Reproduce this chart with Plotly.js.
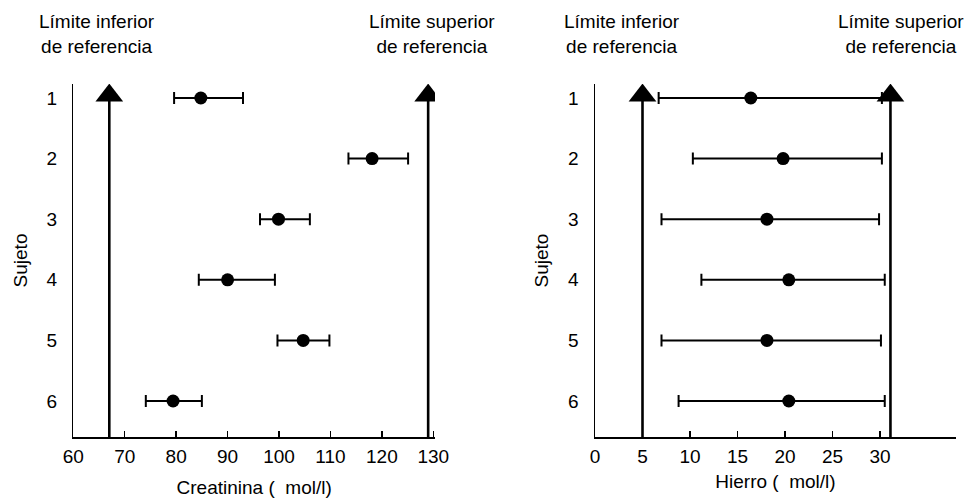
<!DOCTYPE html>
<html>
<head>
<meta charset="utf-8">
<script src="https://cdn.plot.ly/plotly-3.0.1.min.js"></script>
<style>html,body{margin:0;padding:0;background:#fff;}#chart{width:971px;height:499px;}</style>
</head>
<body>
<div id="chart"></div>
<script>
// ---- data ----
var subjects = [1, 2, 3, 4, 5, 6];
var subjectLabels = ['1', '2', '3', '4', '5', '6'];

var creatMean = [84.8, 118.1, 99.9, 90.0, 104.7, 79.4];
var creatLow  = [79.6, 113.5, 96.3, 84.4, 99.7, 74.1];
var creatHigh = [93.0, 125.1, 106.0, 99.2, 109.8, 85.0];
var creatRef  = [67, 129];
var creatTicks = [60, 70, 80, 90, 100, 110, 120, 130];

var ironMean = [16.4, 19.8, 18.1, 20.4, 18.1, 20.4];
var ironLow  = [6.7, 10.3, 7.0, 11.2, 7.0, 8.8];
var ironHigh = [30.2, 30.2, 29.9, 30.5, 30.1, 30.5];
var ironRef  = [5, 31.1];
var ironTicks = [0, 5, 10, 15, 20, 25, 30];

var refLabels = ['Límite inferior<br>de referencia', 'Límite superior<br>de referencia'];

// ---- helpers ----
var W = 971, H = 499;
var FONT = '"Liberation Sans", Arial, sans-serif';
var yRange = [6.594, 0.769];
var arrowTipY = 0.96;

function diff(a, b) { return a.map(function (v, i) { return v - b[i]; }); }

function pointsTrace(mean, low, high, xa, ya) {
  return {
    type: 'scatter', mode: 'markers', x: mean, y: subjects, xaxis: xa, yaxis: ya,
    marker: { symbol: 'circle', size: 13, color: '#000', opacity: 1, line: { width: 0 } },
    error_x: { type: 'data', symmetric: false, array: diff(high, mean), arrayminus: diff(mean, low),
               color: '#000', thickness: 2, width: 6 },
    hoverinfo: 'x+y'
  };
}
function refLineTrace(v, xa, ya) {
  return {
    type: 'scatter', mode: 'lines', x: [v, v], y: [yRange[0], arrowTipY],
    xaxis: xa, yaxis: ya, line: { color: '#000', width: 2.6 }, hoverinfo: 'x'
  };
}
function refHeadTrace(v, xa, ya) {
  return {
    type: 'scatter', mode: 'markers', x: [v], y: [arrowTipY], xaxis: xa, yaxis: ya,
    marker: { symbol: 'triangle-up', size: 24, color: '#000', opacity: 1, line: { width: 0, color: '#000' } },
    hoverinfo: 'x'
  };
}

var traces = [
  refLineTrace(creatRef[0], 'x', 'y'), refLineTrace(creatRef[1], 'x', 'y'),
  refHeadTrace(creatRef[0], 'x', 'y'), refHeadTrace(creatRef[1], 'x', 'y'),
  pointsTrace(creatMean, creatLow, creatHigh, 'x', 'y'),
  refLineTrace(ironRef[0], 'x2', 'y2'), refLineTrace(ironRef[1], 'x2', 'y2'),
  refHeadTrace(ironRef[0], 'x2', 'y2'), refHeadTrace(ironRef[1], 'x2', 'y2'),
  pointsTrace(ironMean, ironLow, ironHigh, 'x2', 'y2')
];

function xAxis(domainPx, range, ticks, title, anchor, standoff) {
  return {
    domain: [domainPx[0] / W, domainPx[1] / W], range: range, anchor: anchor,
    showline: true, linecolor: '#000', linewidth: 1.5,
    ticks: 'inside', ticklen: 6, tickwidth: 1.5, tickcolor: '#000',
    tickmode: 'array', tickvals: ticks, ticktext: ticks.map(String),
    showgrid: false, zeroline: false, automargin: false,
    tickfont: { family: FONT, size: 19, color: '#000' },
    ticklabelstandoff: 2,
    title: { text: title, font: { family: FONT, size: 19, color: '#000' }, standoff: standoff },
    fixedrange: true
  };
}
function yAxis(anchor) {
  return {
    domain: [(H - 437) / H, (H - 84) / H], range: yRange, anchor: anchor,
    showline: true, linecolor: '#000', linewidth: 1.5,
    ticks: '', tickmode: 'array', tickvals: subjects, ticktext: subjectLabels,
    showgrid: false, zeroline: false, automargin: false,
    tickfont: { family: FONT, size: 19, color: '#000' },
    ticklabelstandoff: 11,
    title: { text: 'Sujeto', font: { family: FONT, size: 19, color: '#000' }, standoff: 14 },
    fixedrange: true
  };
}

function refAnno(text, xPx) {
  return {
    text: text, xref: 'paper', yref: 'paper', x: xPx / W, y: (H - 34) / H,
    xanchor: 'center', yanchor: 'middle', showarrow: false, align: 'center',
    font: { family: FONT, size: 19, color: '#000' }
  };
}

var layout = {
  width: W, height: H,
  margin: { l: 0, r: 0, t: 0, b: 0 },
  paper_bgcolor: '#fff', plot_bgcolor: '#fff',
  showlegend: false,
  font: { family: FONT, color: '#000' },
  xaxis: xAxis([73.3, 435], [60, 130.33], creatTicks, 'Creatinina (\u00a0\u00a0mol/l)', 'y', 14),
  yaxis: yAxis('x'),
  xaxis2: xAxis([595, 956], [0, 38.0], ironTicks, 'Hierro (\u00a0\u00a0mol/l)', 'y2', 8),
  yaxis2: yAxis('x2'),
  annotations: [
    refAnno(refLabels[0], 97), refAnno(refLabels[1], 432),
    refAnno(refLabels[0], 622), refAnno(refLabels[1], 901)
  ]
};

Plotly.newPlot('chart', traces, layout, { displayModeBar: false, staticPlot: true });
</script>
</body>
</html>
